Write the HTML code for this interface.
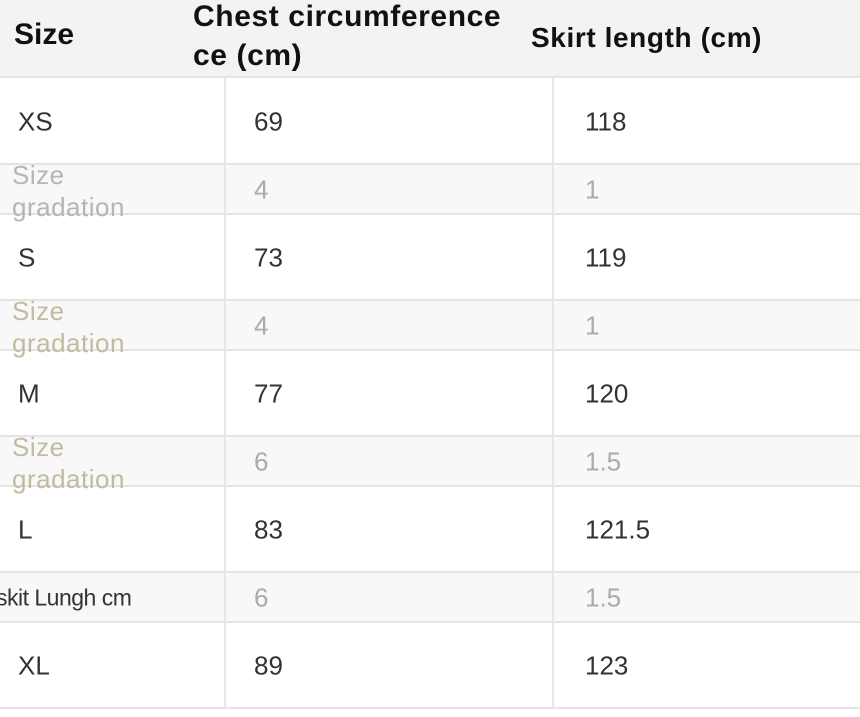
<!DOCTYPE html>
<html><head><meta charset="utf-8"><style>
body{margin:0;width:860px;height:717px;background:#fff;position:relative;overflow:hidden;font-family:"Liberation Sans",sans-serif;}
.r{position:absolute;left:0;width:860px;border-bottom:2px solid #e4e4e4;box-sizing:border-box}
.v{position:absolute;width:2px;background:#e6e6e6;top:77px;height:631px}
.t{position:absolute;white-space:nowrap;transform:translateY(-50%);color:#333;font-size:26px}
.g{color:#aaa}
.b{color:#111;font-weight:bold;font-size:30px}
.sg{color:#c2bb9f;font-size:26px;line-height:32px;letter-spacing:0.5px}
</style></head><body>
<div class="r" style="top:0;height:78px;background:#f3f3f3"></div>
<div class="r" style="top:78px;height:87px"></div>
<div class="r" style="top:165px;height:50px;background:#f8f8f8"></div>
<div class="r" style="top:215px;height:86px"></div>
<div class="r" style="top:301px;height:50px;background:#f8f8f8"></div>
<div class="r" style="top:351px;height:86px"></div>
<div class="r" style="top:437px;height:50px;background:#f8f8f8"></div>
<div class="r" style="top:487px;height:86px"></div>
<div class="r" style="top:573px;height:50px;background:#f8f8f8"></div>
<div class="r" style="top:623px;height:86px"></div>
<div class="v" style="left:224px"></div>
<div class="v" style="left:552px"></div>

<div class="t b" style="left:14px;top:35px">Size</div>
<div class="t b" style="left:193px;top:36px;line-height:39px;letter-spacing:0.6px">Chest circumference<br>ce (cm)</div>
<div class="t b" style="left:531px;top:38px;font-size:28px;letter-spacing:0.6px">Skirt length (cm)</div>

<div class="t" style="left:18px;top:122px">XS</div><div class="t" style="left:254px;top:122px">69</div><div class="t" style="left:585px;top:122px">118</div>
<div class="t sg" style="left:12px;top:191px;color:#b5b5b5">Size<br>gradation</div><div class="t g" style="left:254px;top:190px">4</div><div class="t g" style="left:585px;top:190px">1</div>
<div class="t" style="left:18px;top:258px">S</div><div class="t" style="left:254px;top:258px">73</div><div class="t" style="left:585px;top:258px">119</div>
<div class="t sg" style="left:12px;top:327px">Size<br>gradation</div><div class="t g" style="left:254px;top:326px">4</div><div class="t g" style="left:585px;top:326px">1</div>
<div class="t" style="left:18px;top:394px">M</div><div class="t" style="left:254px;top:394px">77</div><div class="t" style="left:585px;top:394px">120</div>
<div class="t sg" style="left:12px;top:463px">Size<br>gradation</div><div class="t g" style="left:254px;top:462px">6</div><div class="t g" style="left:585px;top:462px">1.5</div>
<div class="t" style="left:18px;top:530px">L</div><div class="t" style="left:254px;top:530px">83</div><div class="t" style="left:585px;top:530px">121.5</div>
<div class="t" style="left:-4px;top:598px;font-size:23px;letter-spacing:-0.5px">skit Lungh cm</div><div class="t g" style="left:254px;top:598px">6</div><div class="t g" style="left:585px;top:598px">1.5</div>
<div class="t" style="left:18px;top:666px">XL</div><div class="t" style="left:254px;top:666px">89</div><div class="t" style="left:585px;top:666px">123</div>
</body></html>
